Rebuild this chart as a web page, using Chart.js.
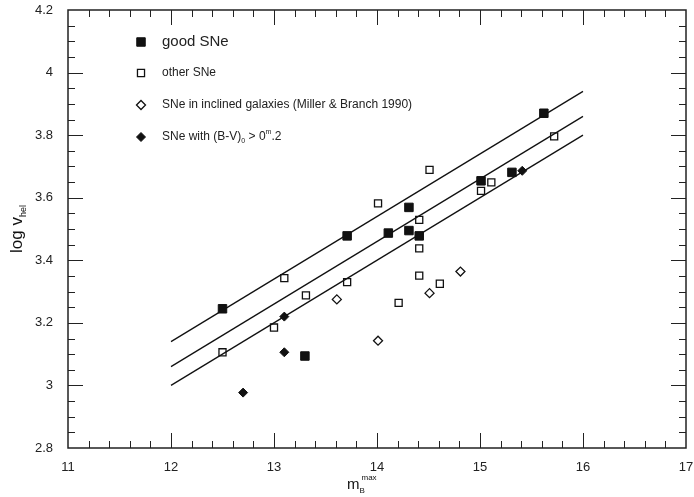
<!DOCTYPE html>
<html>
<head>
<meta charset="utf-8">
<script src="https://cdn.jsdelivr.net/npm/chart.js@4/dist/chart.umd.min.js"></script>
<style>
  html, body { margin: 0; padding: 0; background: #fff; }
  #wrap { width: 694px; height: 497px; position: relative; }
</style>
</head>
<body>
<div id="wrap"><canvas id="sneChart"></canvas></div>
<script>
// --- dados ---
const goodX = [12.5, 13.3, 13.71, 14.11, 14.31, 14.31, 14.41, 15.01, 15.31, 15.62];
const goodY = [3.245, 3.094, 3.478, 3.487, 3.569, 3.495, 3.478, 3.654, 3.681, 3.870];

const otherX = [12.5, 13.0, 13.1, 13.31, 13.71, 14.01, 14.21, 14.41, 14.41, 14.41, 14.51, 14.61, 15.01, 15.11, 15.72];
const otherY = [3.106, 3.185, 3.343, 3.288, 3.33, 3.582, 3.264, 3.529, 3.438, 3.351, 3.689, 3.325, 3.622, 3.649, 3.796];

const inclinedX = [13.61, 14.01, 14.51, 14.81];
const inclinedY = [3.275, 3.143, 3.295, 3.364];

const reddenedX = [12.7, 13.1, 13.1, 15.41];
const reddenedY = [2.977, 3.22, 3.106, 3.686];

// linhas de ajuste (extremos)
const fitX = [12, 16];
const upperY = [3.14, 3.94];
const middleY = [3.06, 3.86];
const lowerY = [3.0, 3.8];

// eixos
const xMin = 11, xMax = 17, xStep = 1, xMinorStep = 0.2;
const yMin = 2.8, yMax = 4.2, yStep = 0.2, yMinorStep = 0.05;

const INK = '#111';
const FONT = '"Liberation Sans", Arial, Helvetica, sans-serif';

const toPoints = (xs, ys) => xs.map((x, i) => ({ x: x, y: ys[i] }));

const pointSet = (label, xs, ys, style, radius, filled) => ({
    label: label,
    data: toPoints(xs, ys),
    showLine: false,
    pointStyle: style,
    pointRadius: radius,
    pointHoverRadius: radius,
    pointBackgroundColor: filled ? INK : 'rgba(0,0,0,0)',
    pointBorderColor: INK,
    pointBorderWidth: filled ? 1 : 1.3
});

const lineSet = (ys) => ({
    label: '',
    data: toPoints(fitX, ys),
    showLine: true,
    borderColor: INK,
    borderWidth: 1.3,
    pointRadius: 0,
    fill: false
});

// moldura com marcas para dentro nos 4 lados
const frameTicks = {
    id: 'frameTicks',
    afterDatasetsDraw(chart) {
        const { ctx, chartArea: a, scales: { x, y } } = chart;
        ctx.save();
        ctx.strokeStyle = '#222';
        ctx.lineWidth = 1;
        ctx.beginPath();
        const nx = Math.round((xMax - xMin) / xMinorStep);
        const perX = Math.round(xStep / xMinorStep);
        for (let i = 1; i < nx; i++) {
            const px = Math.round(x.getPixelForValue(xMin + i * xMinorStep)) + 0.5;
            const len = i % perX === 0 ? 15 : 7;
            ctx.moveTo(px, a.bottom); ctx.lineTo(px, a.bottom - len);
            ctx.moveTo(px, a.top); ctx.lineTo(px, a.top + len);
        }
        const ny = Math.round((yMax - yMin) / yMinorStep);
        const perY = Math.round(yStep / yMinorStep);
        for (let i = 1; i < ny; i++) {
            const py = Math.round(y.getPixelForValue(yMin + i * yMinorStep)) + 0.5;
            const len = i % perY === 0 ? 15 : 7;
            ctx.moveTo(a.left, py); ctx.lineTo(a.left + len, py);
            ctx.moveTo(a.right, py); ctx.lineTo(a.right - len, py);
        }
        ctx.stroke();
        ctx.lineWidth = 1.5;
        ctx.strokeRect(a.left, a.top, a.right - a.left, a.bottom - a.top);
        ctx.restore();
    }
};

// títulos dos eixos e legenda (com índices)
const annotations = {
    id: 'annotations',
    afterDraw(chart) {
        const { ctx } = chart;
        ctx.save();
        ctx.fillStyle = INK;
        ctx.textBaseline = 'alphabetic';

        // eixo x: m_B^max
        ctx.font = `15px ${FONT}`;
        ctx.fillText('m', 347, 489);
        const mW = ctx.measureText('m').width;
        ctx.font = `8px ${FONT}`;
        ctx.fillText('B', 347 + mW, 493);
        ctx.fillText('max', 347 + mW + 2, 480);

        // eixo y: log v_hel
        ctx.translate(22, 253);
        ctx.rotate(-Math.PI / 2);
        ctx.font = `17px ${FONT}`;
        ctx.fillText('log v', 0, 0);
        const lw = ctx.measureText('log v').width;
        ctx.font = `9px ${FONT}`;
        ctx.fillText('hel', lw, 4);
        ctx.setTransform(1, 0, 0, 1, 0, 0);

        // legenda
        const mx = 141, tx = 162;
        const rows = [
            { y: 42, style: 'rect', filled: true, r: 6, text: 'good SNe', size: 15 },
            { y: 73, style: 'rect', filled: false, r: 5, text: 'other SNe', size: 12 },
            { y: 105, style: 'rectRot', filled: false, r: 4.5, text: 'SNe in inclined galaxies (Miller & Branch 1990)', size: 12 },
            { y: 137, style: 'rectRot', filled: true, r: 4.5, text: null, size: 12 }
        ];
        rows.forEach(r => {
            ctx.fillStyle = r.filled ? INK : '#fff';
            ctx.strokeStyle = INK;
            ctx.lineWidth = r.filled ? 1 : 1.3;
            Chart.helpers.drawPoint(ctx, { pointStyle: r.style, radius: r.r, borderWidth: ctx.lineWidth }, mx, r.y);
            ctx.fillStyle = '#222';
            ctx.textBaseline = 'middle';
            ctx.font = `${r.size}px ${FONT}`;
            if (r.text) {
                ctx.fillText(r.text, tx, r.y);
            } else {
                let cx = tx;
                const part = (s, size, dy) => {
                    ctx.font = `${size}px ${FONT}`;
                    ctx.fillText(s, cx, r.y + dy);
                    cx += ctx.measureText(s).width;
                };
                part('SNe with (B-V)', 12, 0);
                part('0', 7, 4);
                part(' > 0', 12, 0);
                part('m', 7, -5);
                part('.2', 12, 0);
            }
        });
        ctx.restore();
    }
};

const tickFont = { family: FONT, size: 13 };

new Chart(document.getElementById('sneChart'), {
    type: 'scatter',
    data: {
        datasets: [
            pointSet('good SNe', goodX, goodY, 'rect', 6, true),
            pointSet('other SNe', otherX, otherY, 'rect', 5, false),
            pointSet('SNe in inclined galaxies (Miller & Branch 1990)', inclinedX, inclinedY, 'rectRot', 4.5, false),
            pointSet('SNe with (B-V)0 > 0m.2', reddenedX, reddenedY, 'rectRot', 4.5, true),
            lineSet(upperY),
            lineSet(middleY),
            lineSet(lowerY)
        ]
    },
    options: {
        responsive: true,
        maintainAspectRatio: false,
        animation: false,
        layout: { padding: { left: 0, right: 8, top: 10, bottom: 0 } },
        plugins: { legend: { display: false }, tooltip: { enabled: false } },
        scales: {
            x: {
                type: 'linear', min: xMin, max: xMax,
                grid: { display: false, drawTicks: false },
                border: { display: false },
                ticks: { stepSize: xStep, padding: 12, color: '#222', font: tickFont, maxRotation: 0 },
                afterFit: (s) => { s.height = 49; s.paddingLeft = 0; s.paddingRight = 0; }
            },
            y: {
                type: 'linear', min: yMin, max: yMax,
                grid: { display: false, drawTicks: false },
                border: { display: false },
                ticks: { stepSize: yStep, padding: 15, color: '#222', font: tickFont, callback: (v) => String(+v.toFixed(1)) },
                afterFit: (s) => { s.width = 68; s.paddingTop = 0; s.paddingBottom = 0; }
            }
        }
    },
    plugins: [frameTicks, annotations]
});
</script>
</body>
</html>
